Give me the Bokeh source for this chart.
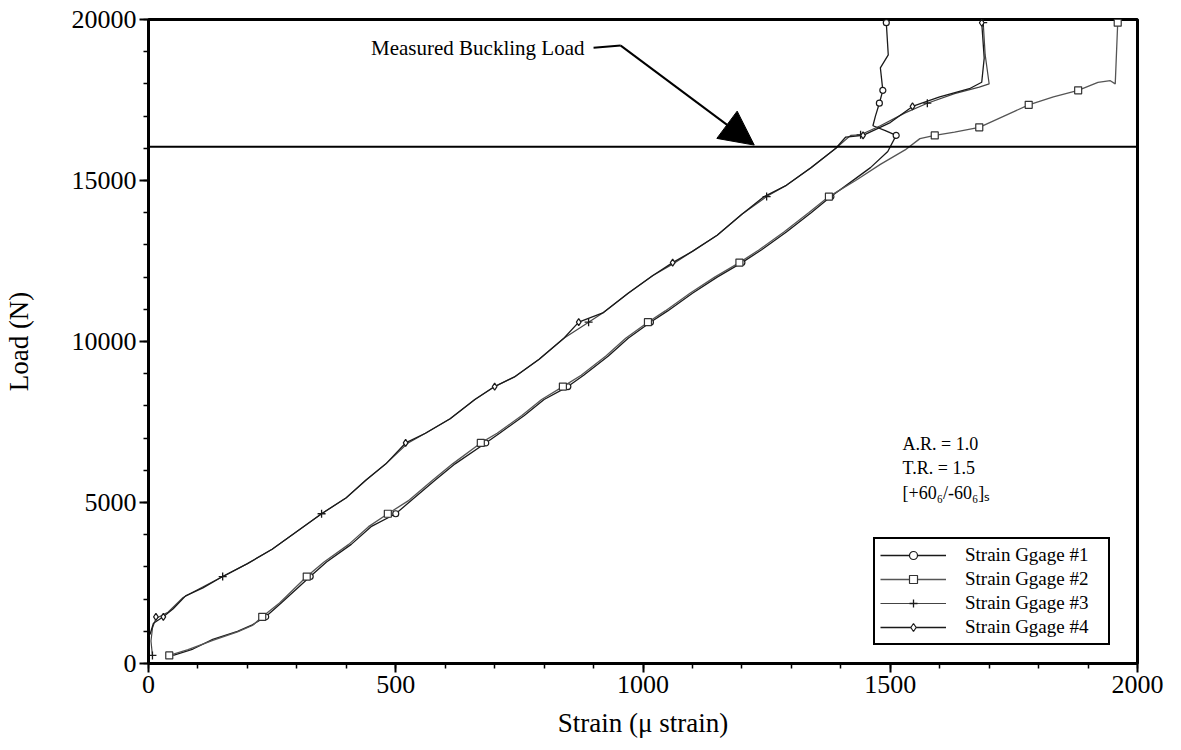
from bokeh.plotting import figure
from bokeh.models import (Span, Arrow, NormalHead, Legend, LegendItem, Label,
                          Range1d, FixedTicker)
from bokeh.embed import file_html
from bokeh.resources import INLINE

FONT = "Liberation Serif"

# ---------------- data (strain in micro-strain, load in N) ----------------
g1_strain = [50, 90, 130, 180, 210, 237, 270, 327, 360, 410, 450, 500, 530, 580, 620, 682,
             710, 760, 800, 848, 880, 930, 970, 1015, 1050, 1100, 1150, 1200, 1240, 1290,
             1340, 1380, 1420, 1460, 1495, 1512, 1490, 1465, 1470, 1478, 1485, 1480, 1496, 1492]
g1_load = [250, 450, 750, 1000, 1200, 1450, 1900, 2700, 3150, 3700, 4250, 4650, 5050, 5700,
           6200, 6850, 7150, 7700, 8200, 8600, 8950, 9550, 10100, 10600, 10950, 11500, 12000,
           12450, 12850, 13400, 14000, 14500, 14950, 15400, 15900, 16400, 16550, 16700, 17000,
           17400, 17800, 18500, 18900, 19900]
g1_mk_strain = [237, 327, 500, 682, 848, 1015, 1200, 1380, 1512, 1478, 1485, 1492]
g1_mk_load = [1450, 2700, 4650, 6850, 8600, 10600, 12450, 14500, 16400, 17400, 17800, 19900]

g2_strain = [42, 80, 130, 180, 210, 230, 265, 320, 355, 405, 445, 484, 525, 575, 615, 672,
             705, 755, 795, 838, 875, 925, 965, 1010, 1045, 1095, 1145, 1195, 1235, 1285,
             1335, 1376, 1430, 1480, 1530, 1560, 1590, 1630, 1680, 1730, 1780, 1830, 1880,
             1920, 1945, 1955, 1960]
g2_load = [250, 430, 720, 980, 1180, 1450, 1880, 2700, 3150, 3700, 4250, 4650, 5050, 5700,
           6200, 6850, 7150, 7700, 8200, 8600, 8950, 9550, 10100, 10600, 10950, 11500, 12000,
           12450, 12850, 13400, 14000, 14500, 15000, 15500, 15950, 16300, 16400, 16500, 16650,
           17000, 17350, 17600, 17800, 18050, 18100, 18000, 19900]
g2_mk_strain = [42, 230, 320, 484, 672, 838, 1010, 1195, 1376, 1590, 1680, 1780, 1880, 1960]
g2_mk_load = [250, 1450, 2700, 4650, 6850, 8600, 10600, 12450, 14500, 16400, 16650, 17350,
              17800, 19900]

g3_strain = [8, 5, 8, 15, 40, 70, 100, 150, 200, 250, 300, 350, 400, 440, 480, 525, 560, 610,
             660, 700, 740, 790, 840, 890, 920, 970, 1020, 1065, 1100, 1150, 1200, 1250, 1290,
             1340, 1390, 1420, 1440, 1480, 1530, 1575, 1630, 1680, 1700, 1692, 1688]
g3_load = [250, 700, 1100, 1400, 1600, 2050, 2300, 2700, 3100, 3550, 4100, 4650, 5150, 5700,
           6200, 6850, 7150, 7600, 8200, 8600, 8900, 9450, 10100, 10600, 10900, 11500, 12050,
           12450, 12800, 13300, 13950, 14500, 14850, 15400, 16000, 16400, 16420, 16700, 17100,
           17400, 17700, 17900, 18000, 18900, 19900]
g3_mk_strain = [8, 150, 350, 890, 1250, 1440, 1575, 1688]
g3_mk_load = [250, 2700, 4650, 10600, 14500, 16420, 17400, 19900]

g4_strain = [3, 10, 30, 50, 75, 110, 150, 200, 250, 300, 350, 400, 440, 480, 520, 560, 610,
             660, 700, 740, 790, 840, 870, 920, 970, 1020, 1060, 1100, 1150, 1200, 1245, 1290,
             1340, 1390, 1410, 1445, 1500, 1545, 1600, 1660, 1685, 1690, 1685]
g4_load = [900, 1250, 1450, 1700, 2100, 2350, 2700, 3100, 3550, 4100, 4650, 5150, 5700, 6200,
           6850, 7150, 7600, 8200, 8600, 8900, 9450, 10100, 10600, 10900, 11500, 12050, 12450,
           12800, 13300, 13950, 14500, 14850, 15400, 16000, 16350, 16400, 16800, 17300, 17600,
           17850, 18050, 18800, 19900]
g4_mk_strain = [15, 30, 520, 700, 870, 1060, 1445, 1545, 1685]
g4_mk_load = [1450, 1450, 6850, 8600, 10600, 12450, 16400, 17300, 19900]

labels = ["Strain Ggage #1", "Strain Ggage #2", "Strain Ggage #3", "Strain Ggage #4"]
buckling_load = 16050

# ---------------- figure ----------------
p = figure(width=1181, height=750, x_range=Range1d(0, 2000), y_range=Range1d(0, 20000),
           output_backend="svg", toolbar_location=None,
           min_border_left=147, min_border_right=44, min_border_top=19, min_border_bottom=87)
p.background_fill_color = "white"
p.border_fill_color = "white"
p.grid.visible = False
p.outline_line_color = "black"
p.outline_line_width = 3
p.outline_line_alpha = 1

p.xaxis.ticker = FixedTicker(ticks=[0, 500, 1000, 1500, 2000],
                             minor_ticks=list(range(0, 2001, 100)))
p.yaxis.ticker = FixedTicker(ticks=[0, 5000, 10000, 15000, 20000],
                             minor_ticks=list(range(0, 20001, 1000)))
for ax in (p.xaxis[0], p.yaxis[0]):
    ax.axis_line_width = 3
    ax.axis_line_color = "black"
    ax.major_tick_line_width = 2
    ax.minor_tick_line_width = 1.5
    ax.major_tick_in = 0
    ax.major_tick_out = 9
    ax.minor_tick_in = 0
    ax.minor_tick_out = 5
    ax.major_label_text_font = FONT
    ax.major_label_text_font_size = "26px"
    ax.major_label_text_color = "black"
    ax.axis_label_text_font = FONT
    ax.axis_label_text_font_size = "27px"
    ax.axis_label_text_font_style = "normal"
    ax.axis_label_text_color = "black"
p.xaxis.axis_label = "Strain (\u03bc strain)"
p.yaxis.axis_label = "Load (N)"
p.xaxis.major_label_standoff = 3
p.xaxis.axis_label_standoff = 12
p.yaxis.major_label_standoff = 3
p.yaxis.axis_label_standoff = 35

# ---------------- curves ----------------
l1 = p.line(g1_strain, g1_load, line_color="#1a1a1a", line_width=1.3)
m1 = p.scatter(g1_mk_strain, g1_mk_load, marker="circle", size=6, fill_color="white",
               line_color="#1a1a1a", line_width=1.2)
l2 = p.line(g2_strain, g2_load, line_color="#555555", line_width=1.3)
m2 = p.scatter(g2_mk_strain, g2_mk_load, marker="square", size=7, fill_color="white",
               line_color="#333333", line_width=1.2)
l3 = p.line(g3_strain, g3_load, line_color="#444444", line_width=1.2)
m3 = p.scatter(g3_mk_strain, g3_mk_load, marker="cross", size=8,
               line_color="#1a1a1a", line_width=1.3)
l4 = p.line(g4_strain, g4_load, line_color="#1a1a1a", line_width=1.3)
m4 = p.scatter(g4_mk_strain, g4_mk_load, marker="diamond", size=7, fill_color="white",
               line_color="#1a1a1a", line_width=1.2)

# ---------------- buckling load line & annotation ----------------
p.add_layout(Span(location=buckling_load, dimension="width", line_color="black",
                  line_width=2))
p.add_layout(Label(x=450, y=19120, text="Measured Buckling Load", text_font=FONT,
                   text_font_size="21px", text_color="black", text_baseline="middle",
                   text_align="left"))
p.segment(x0=[900], y0=[19120], x1=[955], y1=[19190], line_color="black", line_width=2)
p.add_layout(Arrow(end=NormalHead(size=34, fill_color="black", line_color="black"),
                   x_start=955, y_start=19190, x_end=1225, y_end=16100,
                   line_color="black", line_width=2))

# ---------------- text block ----------------
info = ["A.R. = 1.0", "T.R. = 1.5", "[+60\u2086/-60\u2086]\u209b"]
info_y = [6830, 6060, 5280]
for t, yy in zip(info, info_y):
    p.add_layout(Label(x=1525, y=yy, text=t, text_font=FONT, text_font_size="18px",
                       text_color="black", text_baseline="middle", text_align="left"))

# ---------------- legend ----------------
items = [LegendItem(label=labels[0], renderers=[l1, m1]),
         LegendItem(label=labels[1], renderers=[l2, m2]),
         LegendItem(label=labels[2], renderers=[l3, m3]),
         LegendItem(label=labels[3], renderers=[l4, m4])]
leg = Legend(items=items, location=(725, 18), glyph_width=66, glyph_height=20,
             label_height=20, label_width=138, label_standoff=19, spacing=2, padding=5,
             margin=0, label_text_font=FONT, label_text_font_size="19px",
             label_text_color="black", border_line_color="black", border_line_width=2,
             border_line_alpha=1, background_fill_alpha=1, background_fill_color="white")
p.add_layout(leg)

open("out.html", "w").write(file_html(p, INLINE))
